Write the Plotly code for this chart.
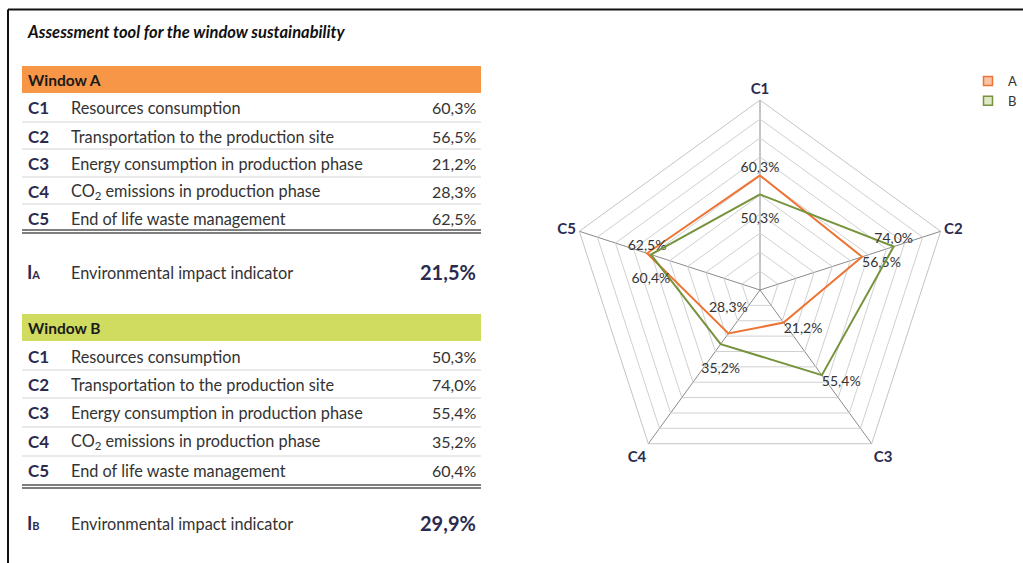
import plotly.graph_objects as go

# ---------------- data ----------------
criteria = ["C1", "C2", "C3", "C4", "C5"]
descriptions = [
    "Resources consumption",
    "Transportation to the production site",
    "Energy consumption in production phase",
    "CO<sub>2</sub> emissions in production phase",
    "End of life waste management",
]
window_a = [0.603, 0.565, 0.212, 0.283, 0.625]
window_b = [0.503, 0.740, 0.554, 0.352, 0.604]
indicator_a = 0.215
indicator_b = 0.299
series_names = ["A", "B"]
title_text = "Assessment tool for the window sustainability"

W, H = 1023, 563
def px(x):
    return x / W
def py(y):
    return 1 - y / H

def fmt(v):
    return f"{v*100:.1f}%".replace(".", ",")

ORANGE_LINE = "#EE7433"
GREEN_LINE = "#77933C"
ORANGE_BAR = "#F79646"
GREEN_BAR = "#CFDC5F"
NAVY = "#2B2B4F"
TXT = "#333333"
FONT = "Lato"

fig = go.Figure()

# label placement: (textposition, extra blank line before/after)
pos_a = ["top center", "bottom right", "bottom right", "top center", "top center"]
pad_a = ["", "", "", "after", ""]
pos_b = ["bottom center", "top center", "bottom right", "bottom center", "bottom center"]
pad_b = ["before", "", "", "before", "before"]

def label(v, pad):
    t = fmt(v)
    if pad == "before":
        return " <br>" + t
    if pad == "after":
        return t + "<br> "
    return t

for vals, col, pos, pad in [(window_a, ORANGE_LINE, pos_a, pad_a), (window_b, GREEN_LINE, pos_b, pad_b)]:
    fig.add_trace(go.Scatterpolar(
        r=vals + vals[:1],
        theta=criteria + criteria[:1],
        mode="lines+text",
        text=[label(v, p) for v, p in zip(vals, pad)] + [" "],
        textposition=pos + ["top center"],
        textfont=dict(family=FONT, size=14, color=TXT),
        line=dict(color=col, width=2),
        showlegend=False,
        hoverinfo="skip",
    ))

for name, fillc, linec in [(series_names[0], "#F9C4A6", ORANGE_LINE), (series_names[1], "#DDE8C4", GREEN_LINE)]:
    fig.add_trace(go.Scatterpolar(
        r=[None], theta=[None], mode="markers", name=name,
        marker=dict(symbol="square", size=9, color=fillc, line=dict(color=linec, width=1.5)),
    ))

fig.update_layout(
    width=W, height=H,
    margin=dict(l=0, r=0, t=0, b=0),
    paper_bgcolor="white",
    plot_bgcolor="white",
    font=dict(family=FONT, color=TXT),
    polar=dict(
        domain=dict(x=[px(570), px(950)], y=[py(480), py(100)]),
        bgcolor="white",
        gridshape="linear",
        radialaxis=dict(range=[0, 1], dtick=0.1, showticklabels=False, ticks="",
                        showline=False, gridcolor="#D0D0D0", gridwidth=1),
        angularaxis=dict(rotation=90, direction="clockwise", ticks="",
                         showline=True, linecolor="#C4C4C4", linewidth=1,
                         gridcolor="#8A8A8A", gridwidth=1,
                         tickvals=criteria,
                         ticktext=[f"<b>{c}</b>" for c in criteria],
                         tickfont=dict(family=FONT, size=15, color=NAVY)),
    ),
    legend=dict(x=px(968), y=py(66), xanchor="left", yanchor="top",
                font=dict(family=FONT, size=13, color=TXT),
                bgcolor="rgba(0,0,0,0)", tracegroupgap=0, itemwidth=30),
)

shapes = []
ann = []

# frame
shapes.append(dict(type="line", xref="paper", yref="paper", x0=px(8), x1=1, y0=py(9.5), y1=py(9.5),
                   line=dict(color="#111111", width=2)))
shapes.append(dict(type="line", xref="paper", yref="paper", x0=px(8), x1=px(8), y0=py(9.5), y1=0,
                   line=dict(color="#111111", width=2)))

ann.append(dict(x=px(25), y=py(32), text=f"<b><i>{title_text}</i></b>", showarrow=False,
                xanchor="left", yanchor="middle", font=dict(family=FONT, size=16.5, color="#111111")))

def block(bar_top, bar_color, label_txt, rows_y, seps, dbl, vals, ind_y, ind_letter, ind_val):
    shapes.append(dict(type="rect", xref="paper", yref="paper", x0=px(22), x1=px(481),
                       y0=py(bar_top + 27), y1=py(bar_top), fillcolor=bar_color, line=dict(width=0)))
    ann.append(dict(x=px(26), y=py(bar_top + 13.5), text=f"<b>{label_txt}</b>", showarrow=False,
                    xanchor="left", yanchor="middle", font=dict(family=FONT, size=15.5, color="#1a1a1a")))
    for c, d, v, y in zip(criteria, descriptions, vals, rows_y):
        ann.append(dict(x=px(26), y=py(y), text=f"<b>{c}</b>", showarrow=False, xanchor="left",
                        yanchor="middle", font=dict(family=FONT, size=17, color=NAVY)))
        ann.append(dict(x=px(69), y=py(y), text=d, showarrow=False, xanchor="left",
                        yanchor="middle", font=dict(family=FONT, size=16.3, color=TXT)))
        ann.append(dict(x=px(478), y=py(y), text=fmt(v), showarrow=False, xanchor="right",
                        yanchor="middle", font=dict(family=FONT, size=16, color=TXT)))
    for s in seps:
        shapes.append(dict(type="line", xref="paper", yref="paper", x0=px(22), x1=px(481),
                           y0=py(s), y1=py(s), line=dict(color="#D5D5D5", width=1)))
    for s in (dbl, dbl + 3):
        shapes.append(dict(type="line", xref="paper", yref="paper", x0=px(22), x1=px(481),
                           y0=py(s), y1=py(s), line=dict(color="#555555", width=1.5)))
    ann.append(dict(x=px(25), y=py(ind_y),
                    text=f"<b>I<span style='font-size:11px'>{ind_letter}</span></b>",
                    showarrow=False, xanchor="left", yanchor="middle",
                    font=dict(family=FONT, size=18, color=NAVY)))
    ann.append(dict(x=px(69), y=py(ind_y), text="Environmental impact indicator", showarrow=False,
                    xanchor="left", yanchor="middle", font=dict(family=FONT, size=16.3, color=TXT)))
    ann.append(dict(x=px(478), y=py(ind_y), text=f"<b>{fmt(ind_val)}</b>", showarrow=False,
                    xanchor="right", yanchor="middle", font=dict(family=FONT, size=20, color=NAVY)))

block(66, ORANGE_BAR, "Window A", [108, 136, 163, 191, 218], [122, 149, 177, 204], 230,
      window_a, 272, "A", indicator_a)
block(314, GREEN_BAR, "Window B", [356, 384, 412, 441, 470], [370, 398, 427, 456], 485,
      window_b, 523, "B", indicator_b)

fig.update_layout(shapes=shapes, annotations=ann)
fig.write_html("out.html", config={"displayModeBar": False},
               post_script="document.body.style.margin='0px';")
